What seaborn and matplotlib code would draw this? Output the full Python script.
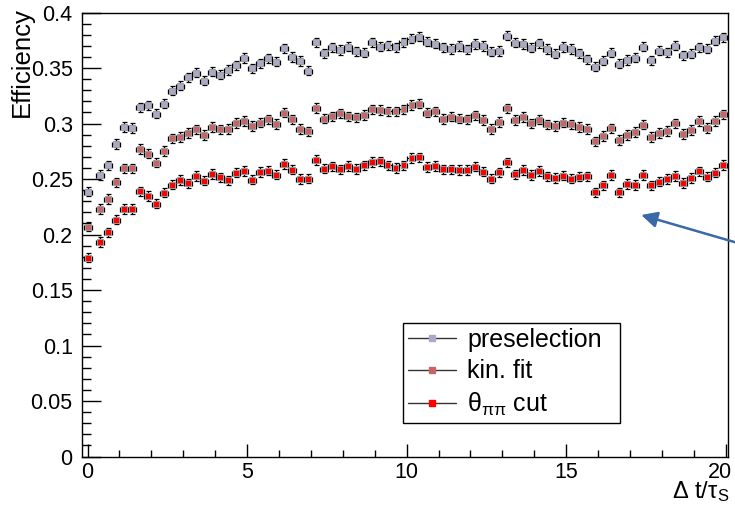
import numpy as np
import pandas as pd
import seaborn as sns
import matplotlib.pyplot as plt
import matplotlib.transforms as mtransforms
from matplotlib.lines import Line2D
from matplotlib.ticker import MultipleLocator, FuncFormatter

# Delta t / tau_S bin positions
dt = [0.0, 0.4, 0.65, 0.9, 1.15, 1.4, 1.65, 1.9, 2.15, 2.4, 2.65, 2.9, 3.15,
      3.4, 3.65, 3.9, 4.15, 4.4, 4.65, 4.9, 5.15, 5.4, 5.65, 5.9, 6.15, 6.4,
      6.65, 6.9, 7.15, 7.4, 7.65, 7.9, 8.15, 8.4, 8.65, 8.9, 9.15, 9.4, 9.65,
      9.9, 10.15, 10.4, 10.65, 10.9, 11.15, 11.4, 11.65, 11.9, 12.15, 12.4,
      12.65, 12.9, 13.15, 13.4, 13.65, 13.9, 14.15, 14.4, 14.65, 14.9, 15.15,
      15.4, 15.65, 15.9, 16.15, 16.4, 16.65, 16.9, 17.15, 17.4, 17.65, 17.9,
      18.15, 18.4, 18.65, 18.9, 19.15, 19.4, 19.65, 19.9]

eff_presel = [0.2386, 0.2536, 0.2623, 0.2815, 0.2968, 0.2962, 0.3146, 0.3164,
              0.3089, 0.3179, 0.3296, 0.3341, 0.3416, 0.3458, 0.3386, 0.3467,
              0.3440, 0.3482, 0.3524, 0.3590, 0.3497, 0.3542, 0.3587, 0.3557,
              0.3677, 0.3599, 0.3563, 0.3476, 0.3731, 0.3632, 0.3686, 0.3662,
              0.3692, 0.3650, 0.3638, 0.3731, 0.3692, 0.3704, 0.3686, 0.3731,
              0.3764, 0.3782, 0.3737, 0.3719, 0.3686, 0.3671, 0.3698, 0.3668,
              0.3716, 0.3698, 0.3647, 0.3653, 0.3791, 0.3728, 0.3716, 0.3683,
              0.3722, 0.3671, 0.3629, 0.3689, 0.3671, 0.3632, 0.3578, 0.3512,
              0.3566, 0.3638, 0.3539, 0.3572, 0.3593, 0.3692, 0.3569, 0.3656,
              0.3641, 0.3701, 0.3614, 0.3629, 0.3686, 0.3674, 0.3746, 0.3776]

eff_kinfit = [0.2071, 0.2230, 0.2320, 0.2470, 0.2596, 0.2596, 0.2770, 0.2728,
              0.2647, 0.2752, 0.2866, 0.2881, 0.2914, 0.2947, 0.2896, 0.2971,
              0.2947, 0.2953, 0.3004, 0.3023, 0.2977, 0.3008, 0.3038, 0.2996,
              0.3098, 0.3038, 0.2953, 0.2929, 0.3140, 0.3044, 0.3065, 0.3092,
              0.3065, 0.3056, 0.3077, 0.3128, 0.3122, 0.3110, 0.3110, 0.3128,
              0.3167, 0.3179, 0.3098, 0.3110, 0.3041, 0.3062, 0.3044, 0.3038,
              0.3074, 0.3032, 0.2953, 0.3013, 0.3137, 0.3032, 0.3059, 0.3002,
              0.3035, 0.2993, 0.2980, 0.3008, 0.2993, 0.2971, 0.2953, 0.2839,
              0.2887, 0.2956, 0.2851, 0.2896, 0.2923, 0.2990, 0.2878, 0.2917,
              0.2935, 0.3002, 0.2908, 0.2944, 0.3023, 0.2962, 0.3023, 0.3083]

eff_thetacut = [0.1791, 0.1935, 0.2020, 0.2134, 0.2230, 0.2230, 0.2389, 0.2347,
                0.2278, 0.2377, 0.2449, 0.2491, 0.2461, 0.2527, 0.2485, 0.2545,
                0.2515, 0.2488, 0.2557, 0.2572, 0.2494, 0.2563, 0.2575, 0.2539,
                0.2635, 0.2584, 0.2500, 0.2503, 0.2671, 0.2593, 0.2614, 0.2587,
                0.2617, 0.2590, 0.2623, 0.2653, 0.2659, 0.2623, 0.2599, 0.2623,
                0.2689, 0.2695, 0.2608, 0.2617, 0.2587, 0.2587, 0.2581, 0.2581,
                0.2611, 0.2566, 0.2503, 0.2560, 0.2650, 0.2542, 0.2581, 0.2536,
                0.2572, 0.2524, 0.2509, 0.2530, 0.2503, 0.2521, 0.2524, 0.2380,
                0.2443, 0.2536, 0.2380, 0.2455, 0.2446, 0.2536, 0.2443, 0.2476,
                0.2500, 0.2527, 0.2464, 0.2509, 0.2569, 0.2521, 0.2557, 0.2626]

series_names = ["preselection", "kin. fit", r"θ$_{\mathregular{ππ}}$ cut"]
series_colors = ["#A9A9C9", "#C86464", "#FF0000"]
y_err = 0.0043
x_err = 0.125

sns.set_style("ticks")
plt.rcParams["font.family"] = ["Liberation Sans", "DejaVu Sans"]
plt.rcParams["mathtext.fontset"] = "custom"
plt.rcParams["mathtext.rm"] = "Liberation Sans"
plt.rcParams["mathtext.it"] = "Liberation Sans:italic"
plt.rcParams["text.color"] = "black"
plt.rcParams["xtick.color"] = "black"
plt.rcParams["ytick.color"] = "black"
plt.rcParams["xtick.labelcolor"] = "black"
plt.rcParams["ytick.labelcolor"] = "black"

frames = []
for name, vals in zip(series_names, [eff_presel, eff_kinfit, eff_thetacut]):
    frames.append(pd.DataFrame({"dt": dt, "eff": vals, "sample": name}))
df = pd.concat(frames, ignore_index=True)

fig = plt.figure(figsize=(7.35, 5.09), dpi=100)
ax = fig.add_axes([0.1122, 0.1031, 0.8783, 0.8723])

for name in series_names:
    sub = df[df["sample"] == name]
    ax.errorbar(sub["dt"], sub["eff"], yerr=y_err, xerr=x_err, fmt="none",
                ecolor="black", elinewidth=0.9, capsize=1.8, capthick=0.9, zorder=2)

sns.scatterplot(data=df, x="dt", y="eff", hue="sample",
                palette=dict(zip(series_names, series_colors)),
                marker="s", s=18, edgecolor="#9a9a9a", linewidth=0.7,
                legend=False, zorder=3, ax=ax)

ax.set_xlim(-0.16, 20.07)
ax.set_ylim(0, 0.4)
ax.xaxis.set_major_locator(MultipleLocator(5))
ax.xaxis.set_minor_locator(MultipleLocator(1))
ax.yaxis.set_major_locator(MultipleLocator(0.05))
ax.yaxis.set_minor_locator(MultipleLocator(0.01))
ax.yaxis.set_major_formatter(FuncFormatter(lambda v, p: "%g" % round(v, 3)))
ax.xaxis.set_major_formatter(FuncFormatter(lambda v, p: "%g" % v))
ax.tick_params(axis="both", which="both", direction="in", top=False, right=False,
               width=1, labelsize=15.5, color="black", labelcolor="black")
ax.tick_params(axis="y", which="major", length=13.7, pad=7)
ax.tick_params(axis="y", which="minor", length=6.8)
ax.tick_params(axis="x", which="major", length=9.4, pad=4)
ax.tick_params(axis="x", which="minor", length=4.7)
for sp in ax.spines.values():
    sp.set_visible(True)
    sp.set_color("black")
    sp.set_linewidth(1)
ax.set_xlabel("")
ax.set_ylabel("")

fig.text(22 / 735, 1 - 7 / 509, "Efficiency", rotation=90, ha="center", va="top",
         fontsize=18.5)
fig.text(729 / 735, 1 - 498 / 509, r"Δ t/τ$_{\mathregular{S}}$",
         ha="right", va="baseline", fontsize=17)

handles = [Line2D([], [], color="#333333", lw=1, marker="s", markersize=4,
                  markerfacecolor=c, markeredgecolor=c) for c in series_colors]
leg = ax.legend(handles, series_names, loc="upper left",
                bbox_to_anchor=(0.497, 0.073, 0.335, 0.228), mode="expand",
                borderaxespad=0, fontsize=18, handlelength=1.9, handletextpad=0.45,
                labelspacing=0.3, borderpad=0.2, fancybox=False, framealpha=1,
                edgecolor="black")
leg.get_frame().set_linewidth(1)

ax.annotate("", xy=(17.35, 0.2176), xytext=(20.3, 0.193),
            arrowprops=dict(arrowstyle="-|>", color="#3A69A8", lw=1.8,
                            mutation_scale=24, shrinkA=0, shrinkB=0),
            annotation_clip=False)

# nudge the last x label inwards like the original
fig.canvas.draw()
shift = mtransforms.ScaledTranslation(-6 / 100, 0, fig.dpi_scale_trans)
for lab in ax.get_xticklabels():
    if lab.get_text() == "20":
        lab.set_transform(lab.get_transform() + shift)

fig.savefig("out.png", dpi=100)
